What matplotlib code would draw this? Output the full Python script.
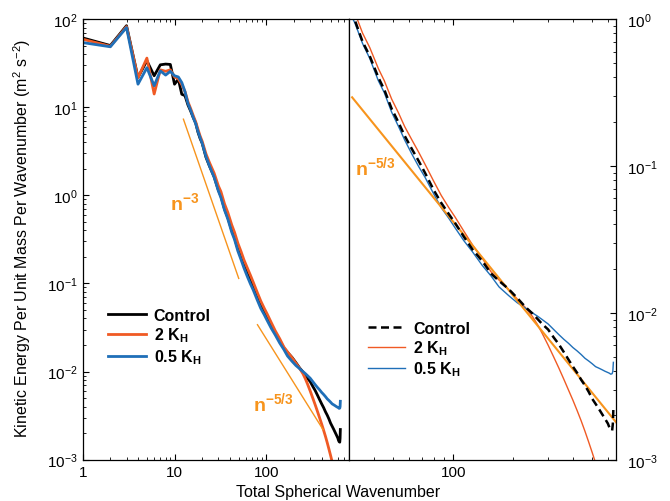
import matplotlib
matplotlib.use('Agg')
import matplotlib.pyplot as plt
from matplotlib.ticker import LogLocator, NullFormatter, FixedLocator, FixedFormatter

plt.rcParams['font.family'] = ['Liberation Sans', 'DejaVu Sans']
plt.rcParams['mathtext.fontset'] = 'custom'
plt.rcParams['mathtext.rm'] = 'Liberation Sans'
plt.rcParams['mathtext.it'] = 'Liberation Sans:italic'
plt.rcParams['mathtext.bf'] = 'Liberation Sans:bold'

# total spherical wavenumber
wavenumber = [1, 2, 3, 4, 5, 6, 7, 8, 9, 10, 11, 12, 13, 14, 15, 16, 17, 18, 19, 20,
              22, 24, 27, 30, 32, 35, 38, 42, 45, 49, 53, 57, 62, 67, 72, 80, 87, 95,
              102, 113, 125, 140, 155, 170, 190, 210, 230, 250, 265, 280, 300, 320,
              340, 360, 380, 400, 420, 440, 460, 480, 500, 520, 540, 560, 580, 600,
              610, 620, 630, 635, 639]

# kinetic energy per unit mass per wavenumber (m2 s-2)
control = [61, 50, 84, 21.7, 33.6, 22.7, 30.2, 30.8, 30.5, 18.2, 20.8, 14.0, 13.5, 10.6,
           9.0, 7.6, 6.6, 5.2, 4.4, 3.9, 2.7, 2.15, 1.62, 1.15, 0.98, 0.70, 0.56, 0.40,
           0.33, 0.245, 0.198, 0.160, 0.130, 0.108, 0.090, 0.068, 0.056, 0.047, 0.041,
           0.033, 0.027, 0.0225, 0.0185, 0.0165, 0.0145, 0.0126, 0.0110, 0.0099,
           0.0091, 0.0084, 0.0077, 0.0068, 0.0061, 0.0054, 0.0048, 0.0043, 0.0039,
           0.0035, 0.0032, 0.0029, 0.0026, 0.0024, 0.00222, 0.00205, 0.00190, 0.00176,
           0.00166, 0.00160, 0.00158, 0.00175, 0.0022]
kh_2 = [59, 49, 82, 21.5, 36, 14.1, 26.5, 25.5, 26.5, 22, 21, 18, 15, 11.5,
        9.6, 8.0, 6.8, 5.6, 4.7, 4.1, 2.95, 2.35, 1.78, 1.28, 1.10, 0.80, 0.64, 0.46,
        0.38, 0.285, 0.23, 0.185, 0.150, 0.124, 0.103, 0.078, 0.063, 0.052, 0.045,
        0.036, 0.029, 0.0235, 0.019, 0.0167, 0.0144, 0.0124, 0.0109, 0.00946,
        0.00834, 0.00726, 0.00603, 0.00501, 0.0042, 0.00353, 0.00298, 0.00254,
        0.00216, 0.00184, 0.00156, 0.00132, 0.00112, 0.00095, 0.00081, 0.00068,
        0.00058, 0.00049, 0.00045, 0.00041, 0.00038, 0.00036, 0.00035]
kh_05 = [54, 48.4, 80, 18.2, 28, 17.5, 25.8, 23.1, 25.5, 22.7, 22, 19, 15, 11,
         9.2, 7.6, 6.5, 5.3, 4.5, 3.9, 2.75, 2.15, 1.6, 1.12, 0.94, 0.68, 0.54, 0.38,
         0.315, 0.232, 0.186, 0.150, 0.120, 0.099, 0.084, 0.064, 0.052, 0.044, 0.038,
         0.031, 0.026, 0.021, 0.0178, 0.0150, 0.0131, 0.0117, 0.0108, 0.0100,
         0.0095, 0.0090, 0.0084, 0.0077, 0.0071, 0.0066, 0.0062, 0.0058, 0.0055,
         0.0052, 0.0049, 0.0047, 0.0045, 0.0043, 0.0042, 0.0041, 0.0040, 0.00392,
         0.00388, 0.00382, 0.00385, 0.0040, 0.0046]

# reference slopes (end points)
ref3_n = [12.5, 50]
ref3_e = [7.3, 0.114]
ref53_left_n = [80, 415]
ref53_left_e = [0.034, 0.00219]
ref53_right_n = [31, 675]
ref53_right_e = [0.293, 0.00173]

c_black = 'black'
c_red = '#f05a24'
c_blue = '#1f6fb8'
c_ref = '#f7941d'

W, H = 670, 502
fig = plt.figure(figsize=(W / 100, H / 100), dpi=100)
ax1 = fig.add_axes([82.7 / W, 1 - 460.7 / H, 266.6 / W, 440.7 / H])
ax2 = fig.add_axes([349.3 / W, 1 - 460.7 / H, 266.2 / W, 440.7 / H])

# ---- left panel
ax1.plot(wavenumber, control, color=c_black, lw=2.0, label='Control')
ax1.plot(wavenumber, kh_2, color=c_red, lw=2.0, label=r'$\mathbf{2\ K_H}$')
ax1.plot(wavenumber, kh_05, color=c_blue, lw=2.0, label=r'$\mathbf{0.5\ K_H}$')
ax1.plot(ref3_n, ref3_e, color=c_ref, lw=1.0)
ax1.plot(ref53_left_n, ref53_left_e, color=c_ref, lw=1.0)
ax1.set_xscale('log')
ax1.set_yscale('log')
ax1.set_xlim(1, 800)
ax1.set_ylim(1e-3, 1e2)
ax1.xaxis.set_major_locator(FixedLocator([1, 10, 100]))
ax1.xaxis.set_major_formatter(FixedFormatter(['1', '10', '100']))
ax1.xaxis.set_minor_formatter(NullFormatter())
ax1.tick_params(which='both', direction='in', top=True, right=False, labelsize=11)
ax1.tick_params(which='major', length=4.5, width=0.8)
ax1.tick_params(which='minor', length=2.5, width=0.6)
ax1.text(9.0, 0.83, r'$\mathbf{n^{-3}}$', color=c_ref, fontsize=14, va='center', ha='left')
ax1.text(71, 0.0045, r'$\mathbf{n^{-5/3}}$', color=c_ref, fontsize=14, va='center', ha='left')
ax1.legend(loc='upper left', bbox_to_anchor=(0.095, 0.345), frameon=False,
           borderpad=0, borderaxespad=0, handlelength=2.35, handletextpad=0.5,
           labelspacing=0.18, prop={'weight': 'bold', 'size': 11.5})

# ---- right panel (zoom of the same spectra)
ax2.plot(wavenumber, kh_2, color=c_red, lw=1.0, label=r'$\mathbf{2\ K_H}$')
ax2.plot(wavenumber, kh_05, color=c_blue, lw=1.0, label=r'$\mathbf{0.5\ K_H}$')
ax2.plot(ref53_right_n, ref53_right_e, color=c_ref, lw=1.5)
ax2.plot(wavenumber, control, color=c_black, lw=1.8, dashes=(3.2, 1.8), label='Control')
ax2.set_xscale('log')
ax2.set_yscale('log')
ax2.set_xlim(30, 655)
ax2.set_ylim(1e-3, 1e0)
ax2.xaxis.set_major_locator(FixedLocator([100]))
ax2.xaxis.set_major_formatter(FixedFormatter(['100']))
ax2.xaxis.set_minor_locator(LogLocator(base=10, subs=range(2, 10)))
ax2.xaxis.set_minor_formatter(NullFormatter())
ax2.yaxis.tick_right()
ax2.tick_params(which='both', direction='in', top=True, left=False, right=True,
                labelleft=False, labelright=True, labelsize=11)
ax2.tick_params(axis='y', pad=8)
ax2.tick_params(which='major', length=4.5, width=0.8)
ax2.tick_params(which='minor', length=2.5, width=0.6)
ax2.text(32, 0.1, r'$\mathbf{n^{-5/3}}$', color=c_ref, fontsize=14, va='center', ha='left')
h, l = ax2.get_legend_handles_labels()
order = [2, 0, 1]
ax2.legend([h[i] for i in order], [l[i] for i in order], loc='upper left',
           bbox_to_anchor=(0.07, 0.315), frameon=False, borderpad=0, borderaxespad=0,
           handlelength=2.35, handletextpad=0.5, labelspacing=0.16,
           prop={'weight': 'bold', 'size': 11.5})

for ax in (ax1, ax2):
    for s in ax.spines.values():
        s.set_linewidth(0.9)

fig.text(22 / W, 0.525, r'Kinetic Energy Per Unit Mass Per Wavenumber (m$^2$ s$^{-2}$)',
         rotation=90, ha='center', va='center', fontsize=11.5)
fig.text(338 / W, 1 - 497 / H, 'Total Spherical Wavenumber', ha='center', va='baseline',
         fontsize=11.5)

fig.savefig('out.png', dpi=100)
